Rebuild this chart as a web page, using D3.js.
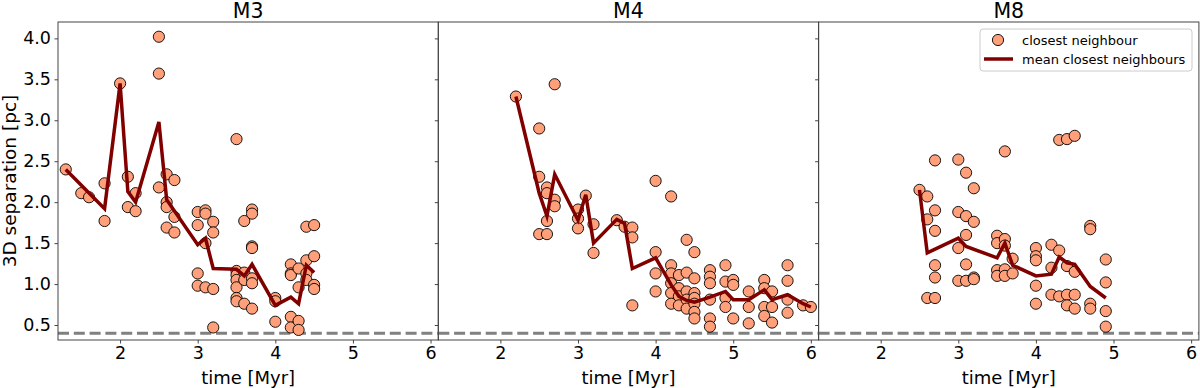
<!DOCTYPE html>
<html>
<head>
<meta charset="utf-8">
<script src="https://cdn.jsdelivr.net/npm/d3@7"></script>
<style>
  body { margin: 0; background: #fff; }
  text { font-family: "DejaVu Sans", sans-serif; fill: #000; }
</style>
</head>
<body>
<div id="chart"></div>
<script>
// cluster names, one panel each
var panelNames = ["M3", "M4", "M8"];

// closest neighbour separations [time Myr, separation pc]
var m3Points = [
  [1.3, 2.40], [1.5, 2.11], [1.6, 2.06], [1.8, 2.23], [1.8, 1.77],
  [2.0, 3.45], [2.1, 2.31], [2.1, 1.94], [2.2, 2.11], [2.2, 1.89],
  [2.5, 4.02], [2.5, 3.57], [2.5, 2.18],
  [2.6, 2.34], [2.6, 2.00], [2.6, 1.94], [2.6, 1.69],
  [2.7, 2.27], [2.7, 1.82], [2.7, 1.63],
  [3.0, 1.88], [3.0, 1.72], [3.0, 1.13], [3.0, 0.98],
  [3.1, 1.90], [3.1, 1.86], [3.1, 1.50], [3.1, 0.96],
  [3.2, 1.76], [3.2, 1.63], [3.2, 0.94], [3.2, 0.47],
  [3.5, 2.77], [3.5, 1.16], [3.5, 1.11], [3.5, 1.05], [3.5, 0.96], [3.5, 0.83], [3.5, 0.79],
  [3.6, 1.77], [3.6, 1.14], [3.6, 1.05], [3.6, 0.76],
  [3.7, 1.91], [3.7, 1.86], [3.7, 1.46], [3.7, 1.44], [3.7, 1.07], [3.7, 1.01], [3.7, 0.70],
  [4.0, 0.83], [4.0, 0.79], [4.0, 0.54],
  [4.2, 1.24], [4.2, 1.13], [4.2, 1.11], [4.2, 0.60], [4.2, 0.47],
  [4.3, 1.19], [4.3, 0.96], [4.3, 0.55], [4.3, 0.44],
  [4.4, 1.70], [4.4, 1.29], [4.4, 1.13], [4.4, 1.05],
  [4.5, 1.72], [4.5, 1.34], [4.5, 0.99], [4.5, 0.94]
];
var m4Points = [
  [2.2, 3.29],
  [2.5, 2.90], [2.5, 2.31], [2.5, 1.61],
  [2.6, 2.18], [2.6, 2.11], [2.6, 1.77], [2.6, 1.61],
  [2.7, 3.44], [2.7, 2.03], [2.7, 1.95],
  [3.0, 1.91], [3.0, 1.80], [3.0, 1.68],
  [3.1, 2.08], [3.2, 1.73], [3.2, 1.38],
  [3.5, 1.78], [3.6, 1.70],
  [3.7, 1.69], [3.7, 1.57], [3.7, 0.74],
  [4.0, 2.26], [4.0, 1.39], [4.0, 1.13], [4.0, 0.91],
  [4.2, 2.07], [4.2, 1.23], [4.2, 1.13], [4.2, 1.01], [4.2, 0.89], [4.2, 0.76],
  [4.3, 1.11], [4.3, 0.95], [4.3, 0.85], [4.3, 0.74],
  [4.4, 1.54], [4.4, 1.14], [4.4, 0.91], [4.4, 0.81], [4.4, 0.70],
  [4.5, 1.39], [4.5, 1.07], [4.5, 0.89], [4.5, 0.83], [4.5, 0.76], [4.5, 0.66], [4.5, 0.58],
  [4.7, 1.17], [4.7, 1.09], [4.7, 1.01], [4.7, 0.81], [4.7, 0.58], [4.7, 0.48],
  [4.9, 1.23], [4.9, 1.03], [4.9, 0.83], [4.9, 0.72],
  [5.0, 1.05], [5.0, 0.99], [5.0, 0.58],
  [5.2, 0.91], [5.2, 0.72], [5.2, 0.52],
  [5.4, 1.05], [5.4, 0.95], [5.4, 0.72], [5.4, 0.61],
  [5.5, 0.91], [5.5, 0.72], [5.5, 0.53],
  [5.7, 1.23], [5.7, 1.04], [5.7, 0.81], [5.7, 0.65],
  [5.9, 0.74], [6.0, 0.72]
];
var m8Points = [
  [2.5, 2.15],
  [2.6, 2.07], [2.6, 1.79], [2.6, 0.83],
  [2.7, 2.51], [2.7, 1.90], [2.7, 1.65], [2.7, 1.23], [2.7, 1.08], [2.7, 0.83],
  [3.0, 2.52], [3.0, 1.88], [3.0, 1.44], [3.0, 1.04],
  [3.1, 2.36], [3.1, 1.83], [3.1, 1.60], [3.1, 1.24], [3.1, 1.04],
  [3.2, 2.17], [3.2, 1.76], [3.2, 1.08], [3.2, 1.06],
  [3.5, 1.59], [3.5, 1.50], [3.5, 1.17], [3.5, 1.10],
  [3.6, 2.62], [3.6, 1.55], [3.6, 1.47], [3.6, 1.18], [3.6, 1.10],
  [3.7, 1.31], [3.7, 1.13],
  [4.0, 1.44], [4.0, 1.34], [4.0, 1.29], [4.0, 0.98], [4.0, 0.76],
  [4.2, 1.48], [4.2, 1.20], [4.2, 0.87],
  [4.3, 2.76], [4.3, 1.41], [4.3, 0.85],
  [4.4, 2.77], [4.4, 1.22], [4.4, 0.87], [4.4, 0.74],
  [4.5, 2.81], [4.5, 1.15], [4.5, 0.87], [4.5, 0.70],
  [4.7, 1.71], [4.7, 1.67], [4.7, 0.76], [4.7, 0.70],
  [4.9, 1.30], [4.9, 1.02], [4.9, 0.67], [4.9, 0.48]
];

// mean closest neighbours
var m3Mean = [
  [1.3, 2.40], [1.8, 1.92], [2.0, 3.45], [2.1, 2.13], [2.2, 2.00], [2.5, 2.98],
  [2.6, 2.03], [3.0, 1.48], [3.1, 1.56], [3.2, 1.19], [3.5, 1.18], [3.6, 1.10],
  [3.7, 1.24], [4.0, 0.74], [4.2, 0.84], [4.3, 0.76], [4.4, 1.23], [4.5, 1.14]
];
var m4Mean = [
  [2.2, 3.29], [2.5, 2.11], [2.6, 1.83], [2.7, 2.34], [3.0, 1.78], [3.1, 2.09],
  [3.2, 1.50], [3.5, 1.79], [3.6, 1.74], [3.7, 1.19], [4.0, 1.32], [4.2, 0.99],
  [4.3, 0.85], [4.4, 0.80], [4.5, 0.78], [4.7, 0.84], [4.9, 0.91], [5.0, 0.81],
  [5.2, 0.81], [5.4, 0.93], [5.5, 0.81], [5.7, 0.87], [5.9, 0.76], [6.0, 0.72]
];
var m8Mean = [
  [2.5, 2.15], [2.6, 1.38], [3.0, 1.56], [3.1, 1.46], [3.5, 1.32], [3.6, 1.50],
  [3.7, 1.23], [4.0, 1.10], [4.2, 1.12], [4.3, 1.33], [4.4, 1.26], [4.5, 1.24],
  [4.7, 0.97], [4.9, 0.83]
];

var xTicks = [2, 3, 4, 5, 6];
var yTicks = [0.5, 1.0, 1.5, 2.0, 2.5, 3.0, 3.5, 4.0];
var limitLine = 0.4;

var allPoints = [m3Points, m4Points, m8Points];
var allMeans = [m3Mean, m4Mean, m8Mean];

var W = 1200, H = 388;
var plotTop = 22, plotBottom = 340, left0 = 58, panelW = 380.3;
var spine = "#444";

var svg = d3.select("#chart").append("svg")
    .attr("width", W)
    .attr("height", H);

var y = d3.scaleLinear().domain([0.317, 4.2]).range([plotBottom, plotTop]);
var x = d3.scaleLinear().domain([1.2, 6.1]).range([0, panelW]);

var line = d3.line()
    .x(function(d) { return x(d[0]); })
    .y(function(d) { return y(d[1]); });

panelNames.forEach(function(name, i) {
  var g = svg.append("g").attr("transform", "translate(" + (left0 + i * panelW) + ",0)");

  g.append("clipPath").attr("id", "clip" + i)
    .append("rect").attr("x", 0).attr("y", plotTop).attr("width", panelW).attr("height", plotBottom - plotTop);

  var inner = g.append("g").attr("clip-path", "url(#clip" + i + ")");

  inner.append("line")
    .attr("x1", 0).attr("x2", panelW)
    .attr("y1", y(limitLine)).attr("y2", y(limitLine))
    .attr("stroke", "#808080")
    .attr("stroke-width", 3)
    .attr("stroke-dasharray", "11,4.8");

  inner.selectAll("circle").data(allPoints[i]).enter().append("circle")
    .attr("cx", function(d) { return x(d[0]); })
    .attr("cy", function(d) { return y(d[1]); })
    .attr("r", 5.6)
    .attr("fill", "#ffa07a")
    .attr("stroke", "#000")
    .attr("stroke-width", 0.9);

  inner.append("path").datum(allMeans[i])
    .attr("d", line)
    .attr("fill", "none")
    .attr("stroke", "#800000")
    .attr("stroke-width", 3.5)
    .attr("stroke-linejoin", "miter");

  // axes
  var yAxis = d3.axisLeft(y).tickValues(yTicks).tickSize(3.5).tickPadding(3.5)
    .tickFormat(i === 0 ? d3.format(".1f") : function() { return ""; });
  var ya = g.append("g").call(yAxis);
  var xa = g.append("g").attr("transform", "translate(0," + plotBottom + ")")
    .call(d3.axisBottom(x).tickValues(xTicks).tickSize(3.5).tickPadding(3.5).tickFormat(d3.format("d")));
  [ya, xa].forEach(function(a) {
    a.select(".domain").remove();
    a.selectAll(".tick line").attr("stroke", spine);
    a.selectAll(".tick text").style("font-size", "17.5px").style("font-family", "DejaVu Sans");
  });

  g.append("rect")
    .attr("x", 0).attr("y", plotTop).attr("width", panelW).attr("height", plotBottom - plotTop)
    .attr("fill", "none").attr("stroke", spine).attr("stroke-width", 1);

  g.append("text")
    .attr("x", panelW / 2).attr("y", 17.5)
    .attr("text-anchor", "middle")
    .style("font-size", "20.5px")
    .text(name);

  g.append("text")
    .attr("x", panelW / 2).attr("y", 384)
    .attr("text-anchor", "middle")
    .style("font-size", "18px")
    .text("time [Myr]");
});

svg.append("text")
  .attr("transform", "translate(16," + ((plotTop + plotBottom) / 2) + ") rotate(-90)")
  .attr("text-anchor", "middle")
  .style("font-size", "18.5px")
  .text("3D separation [pc]");

// legend in the last panel
var leg = svg.append("g").attr("transform", "translate(980,29)");
leg.append("rect")
  .attr("width", 212).attr("height", 42).attr("rx", 3)
  .attr("fill", "#fff").attr("fill-opacity", 0.8)
  .attr("stroke", "#ccc");
leg.append("circle")
  .attr("cx", 18).attr("cy", 11).attr("r", 5.6)
  .attr("fill", "#ffa07a").attr("stroke", "#000").attr("stroke-width", 0.9);
leg.append("line")
  .attr("x1", 4).attr("x2", 33).attr("y1", 30).attr("y2", 30)
  .attr("stroke", "#800000").attr("stroke-width", 3.5);
leg.append("text").attr("x", 42).attr("y", 15.5).style("font-size", "13px").text("closest neighbour");
leg.append("text").attr("x", 42).attr("y", 34.5).style("font-size", "13px").text("mean closest neighbours");
</script>
</body>
</html>
